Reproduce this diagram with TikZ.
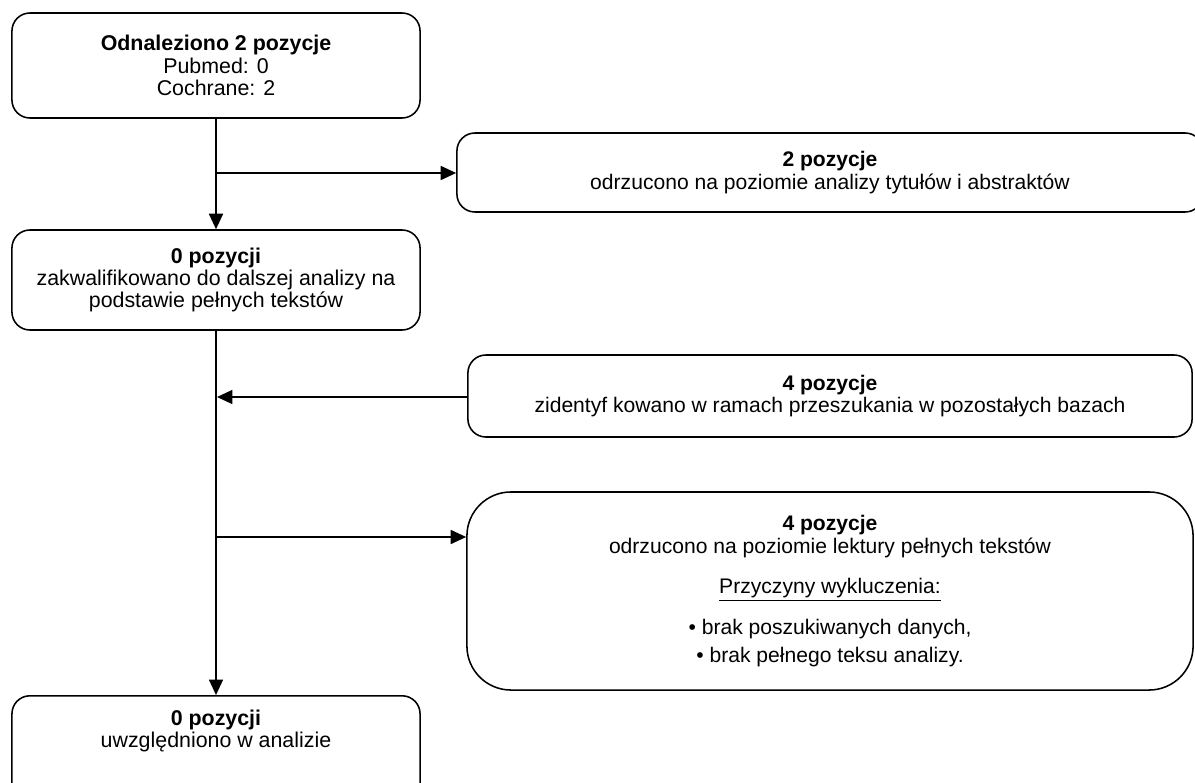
\documentclass[tikz,border=0pt]{standalone}
\usepackage{fontspec}
\setmainfont{Liberation Sans}
\usetikzlibrary{arrows.meta}
\tikzstyle{lbox}=[shape=rectangle,
                draw=black,
                rounded corners=0.45cm,
                align=center,
                line width=1.1pt,
                minimum width=10.2cm,
                font=\fontsize{15.2}{15.8}\selectfont]
\tikzstyle{rbox}=[shape=rectangle,
                draw=black,
                rounded corners=0.45cm,
                align=center,
                line width=1.1pt,
                font=\fontsize{15}{15.8}\selectfont]

\begin{document}
\begin{tikzpicture}[x=0.025cm,y=-0.025cm,>={Triangle[length=11pt,width=10pt]},line width=1.1pt]
\useasboundingbox (0,0) rectangle (1195,782);

% main stream
\node[lbox,minimum height=2.625cm] (odn) at (216,65.5)
  {\textbf{Odnaleziono 2 pozycje}\\Pubmed: 0\\Cochrane: 2};
\node[lbox,minimum height=2.5cm] (kwal) at (216,280)
  {\textbf{0 pozycji}\\zakwalifikowano do dalszej analizy na\\podstawie pełnych tekstów};
\node[lbox,anchor=north,inner ysep=10pt,text depth=3cm] (uwzg) at (216,695)
  {\textbf{0 pozycji}\\uwzględniono w analizie};

% side boxes
\node[rbox,minimum width=18.65cm,minimum height=1.975cm] (abs) at (830,172.5)
  {\textbf{2 pozycje}\\odrzucono na poziomie analizy tytułów i abstraktów};
\node[rbox,minimum width=18.1cm,minimum height=2.05cm] (inne) at (830,396)
  {\textbf{4 pozycje}\\zidentyf kowano w ramach przeszukania w pozostałych bazach};
\node[rbox,rounded corners=1.1cm,minimum width=18.15cm,minimum height=4.95cm] (lekt) at (830,591)
  {\textbf{4 pozycje}\\odrzucono na poziomie lektury pełnych tekstów\\[13pt]
   \underline{Przyczyny wykluczenia:}\\[12pt]
   \textbullet\ brak poszukiwanych danych,\\[4pt]
   \textbullet\ brak pełnego teksu analizy.};

% junctions on the main line
\coordinate (j1) at (217,173);
\coordinate (j2) at (217,397);
\coordinate (j3) at (217,537);

% paths
\path[->] (odn.south) edge (kwal.north)
          (kwal.south) edge (uwzg.north);
\path[->] (j1) edge (j1 -| abs.west)
          (j2 -| inne.west) edge (j2)
          (j3) edge (j3 -| lekt.west);
\end{tikzpicture}
\end{document}
